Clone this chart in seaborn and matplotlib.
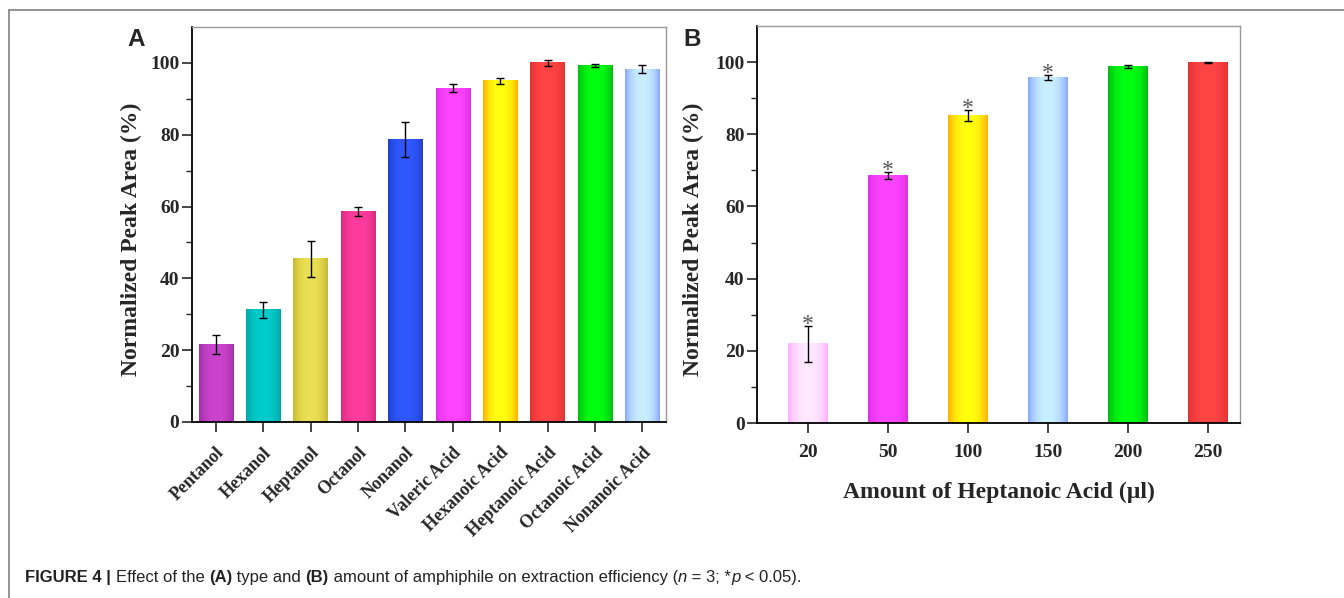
import numpy as np
import seaborn as sns
import matplotlib.pyplot as plt
from matplotlib.colors import to_rgb
from matplotlib.lines import Line2D
from matplotlib.transforms import IdentityTransform

# panel A: amphiphile type
types = ['Pentanol', 'Hexanol', 'Heptanol', 'Octanol', 'Nonanol',
         'Valeric Acid', 'Hexanoic Acid', 'Heptanoic Acid', 'Octanoic Acid', 'Nonanoic Acid']
type_area = [21.6, 31.3, 45.4, 58.7, 78.7, 93.0, 95.0, 100.0, 99.3, 98.3]
type_err = [2.7, 2.2, 4.9, 1.3, 4.8, 1.0, 0.8, 0.9, 0.5, 1.0]

# panel B: amount of heptanoic acid
amounts = ['20', '50', '100', '150', '200', '250']
amount_area = [21.9, 68.5, 85.2, 95.7, 98.7, 99.9]
amount_err = [5.0, 1.0, 1.5, 0.6, 0.4, 0.2]
amount_sig = [True, True, True, True, False, False]

# bar colours: centre / edge of the gradient
a_center = ['#CC44CC', '#00CCCC', '#EADF55', '#FF3C9E', '#2F58FF',
            '#FF44FF', '#FFFF10', '#FF4444', '#00FF10', '#C8EEFF']
a_edge = ['#A030A8', '#00A8A8', '#C8B830', '#D82C80', '#2040CC',
          '#E030E8', '#FFB000', '#E03434', '#00BB10', '#88A8FF']
b_center = ['#FFE8FF', '#FF44FF', '#FFFF10', '#C8EEFF', '#00FF10', '#FF4444']
b_edge = ['#FFB0FF', '#E030E8', '#FFB000', '#88A8FF', '#00BB10', '#E03434']

serif = 'Liberation Serif'
sans = 'Liberation Sans'

sns.set_style('ticks')
plt.rcParams['font.family'] = [serif, 'DejaVu Sans']
plt.rcParams['font.weight'] = 'bold'
plt.rcParams['axes.labelweight'] = 'bold'

fig = plt.figure(figsize=(13.44, 5.98), dpi=100)
axA = fig.add_axes([192 / 1344, 1 - 422 / 598, 474 / 1344, 395 / 598])
axB = fig.add_axes([757 / 1344, 1 - 423 / 598, 483 / 1344, 397 / 598])


def gradient_bars(ax, centers, edges):
    u = np.linspace(0, 1, 60)
    t = np.abs(2 * u - 1) ** 2.5
    for p, c, e in zip(ax.patches, centers, edges):
        c = np.array(to_rgb(c))
        e = np.array(to_rgb(e))
        img = (c[None, :] * (1 - t[:, None]) + e[None, :] * t[:, None])[None, :, :]
        x0, w, h = p.get_x(), p.get_width(), p.get_height()
        ax.imshow(img, extent=[x0, x0 + w, 0, h], aspect='auto',
                  interpolation='bilinear', zorder=2)


def style_axes(ax, label_x):
    for s in ['left', 'bottom']:
        ax.spines[s].set_color('black')
        ax.spines[s].set_linewidth(1.3)
    for s in ['top', 'right']:
        ax.spines[s].set_color('#999999')
        ax.spines[s].set_linewidth(1.0)
    ax.set_ylim(0, 110)
    ax.set_yticks([0, 20, 40, 60, 80, 100])
    ax.set_yticks([10, 30, 50, 70, 90], minor=True)
    ax.tick_params(axis='y', which='major', length=7, width=1.2, labelsize=14, pad=2)
    ax.tick_params(axis='y', which='minor', length=4, width=1.0)
    ax.tick_params(axis='x', which='major', length=7, width=1.2)
    ax.set_ylabel('Normalized Peak Area (%)', fontsize=17, fontweight='bold')
    ax.yaxis.set_label_coords(label_x, 0.463)


# ---- A ----
sns.barplot(x=types, y=type_area, hue=types, palette=a_center, legend=False,
            width=0.72, saturation=1, ax=axA, zorder=2)
gradient_bars(axA, a_center, a_edge)
xs = [p.get_x() + p.get_width() / 2 for p in axA.patches]
axA.errorbar(xs, type_area, yerr=type_err, fmt='none', ecolor='black',
             elinewidth=1.0, capsize=3, capthick=1.0, zorder=4)
axA.set_xlim(-0.5, 9.5)
style_axes(axA, -0.105)
axA.set_xticks(range(len(types)))
axA.set_xticklabels(types, rotation=45, ha='right', rotation_mode='anchor',
                    fontweight='bold', fontsize=13)
axA.tick_params(axis='x', pad=9)
axA.set_xlabel('')

# ---- B ----
sns.barplot(x=amounts, y=amount_area, hue=amounts, palette=b_center, legend=False,
            width=0.5, saturation=1, ax=axB, zorder=2)
gradient_bars(axB, b_center, b_edge)
xs = [p.get_x() + p.get_width() / 2 for p in axB.patches]
axB.errorbar(xs, amount_area, yerr=amount_err, fmt='none', ecolor='black',
             elinewidth=1.0, capsize=3, capthick=1.0, zorder=4)
for x, v, e, s in zip(xs, amount_area, amount_err, amount_sig):
    if s:
        axB.text(x, v + e - 1.1, '*', ha='center', va='baseline', fontsize=17,
                 fontweight='normal', color='#555555', zorder=5)
axB.set_xlim(-0.64, 5.4)
style_axes(axB, -0.11)
axB.set_xticks(range(len(amounts)))
axB.set_xticklabels(amounts, fontweight='bold', fontsize=14)
axB.tick_params(axis='x', pad=8)
axB.set_xlabel('Amount of Heptanoic Acid (µl)', fontsize=17, fontweight='bold', labelpad=15)

# panel letters
fig.text(136 / 1344, 1 - 39 / 598, 'A', family=sans, fontweight='bold',
         fontsize=17.5, ha='center', va='center')
fig.text(692 / 1344, 1 - 39 / 598, 'B', family=sans, fontweight='bold',
         fontsize=17.5, ha='center', va='center')

# figure frame lines
fig.add_artist(Line2D([9 / 1344, 1], [1 - 10 / 598, 1 - 10 / 598], color='#808080', lw=1.2))
fig.add_artist(Line2D([9 / 1344, 9 / 1344], [0, 1 - 10 / 598], color='#808080', lw=1.2))

# caption, pieces laid out left to right on one baseline
pieces = [('FIGURE 4 | ', 'bold', 'normal'), ('Effect of the ', 'normal', 'normal'),
          ('(A)', 'bold', 'normal'), (' type and ', 'normal', 'normal'),
          ('(B)', 'bold', 'normal'),
          (' amount of amphiphile on extraction efficiency (', 'normal', 'normal'),
          ('n', 'normal', 'italic'), (' = 3; *', 'normal', 'normal'),
          ('p', 'normal', 'italic'), (' < 0.05).', 'normal', 'normal')]
fig.canvas.draw()
r = fig.canvas.get_renderer()
x = 25.0
base = 598 - 582
for txt, wt, st in pieces:
    t = fig.text(x, base, txt, family=sans, fontweight=wt, style=st, fontsize=12,
                 ha='left', va='baseline', color='#222222', transform=IdentityTransform())
    x = t.get_window_extent(r).x1

fig.savefig('out.png', dpi=100)
